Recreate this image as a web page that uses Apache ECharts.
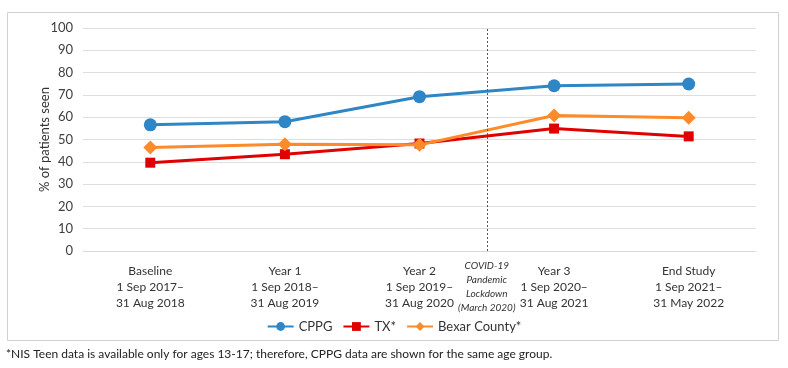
<!DOCTYPE html>
<html>
<head>
<meta charset="utf-8">
<script src="https://cdn.jsdelivr.net/npm/echarts@6/dist/echarts.min.js"></script>
<style>
  html, body { margin: 0; padding: 0; background: #fff; }
  #chart { width: 788px; height: 368px; }
</style>
</head>
<body>
<div id="chart"></div>
<script>
// categories (x axis)
const periods = [
  'Baseline\n1 Sep 2017–\n31 Aug 2018',
  'Year 1\n1 Sep 2018–\n31 Aug 2019',
  'Year 2\n1 Sep 2019–\n31 Aug 2020',
  'Year 3\n1 Sep 2020–\n31 Aug 2021',
  'End Study\n1 Sep 2021–\n31 May 2022'
]

// % of patients seen
const cppg = [56.6, 58.0, 69.2, 74.1, 74.9]
const tx = [39.6, 43.4, 48.2, 54.9, 51.4]
const bexar = [46.4, 47.9, 47.6, 60.8, 59.7]

// covid marker sits on the boundary between Year 2 and Year 3
const covidPos = 3
const covidLabel = ['COVID-19', 'Pandemic', 'Lockdown', '(March 2020)']

const footnote = '*NIS Teen data is available only for ages 13-17; therefore, CPPG data are shown for the same age group.'

const font = 'Lato, "Open Sans", sans-serif'

const chart = echarts.init(document.getElementById('chart'))

const option = {
  animation: false,
  textStyle: { fontFamily: font },
  graphic: [
    {
      type: 'rect',
      shape: { x: 7.5, y: 12.5, width: 771, height: 328 },
      style: { fill: 'none', stroke: '#d0d0d0', lineWidth: 1 },
      silent: true
    },
    {
      type: 'text',
      left: 6,
      top: 348,
      style: { text: footnote, fontSize: 12, fill: '#222', fontFamily: font }
    }
  ],
  grid: { left: 83, right: 32, top: 28, bottom: 117 },
  legend: {
    top: 315,
    left: 'center',
    itemWidth: 26,
    itemHeight: 11,
    itemGap: 10,
    textStyle: { fontSize: 13, color: '#333', fontFamily: font },
    data: ['CPPG', 'TX*', 'Bexar County*']
  },
  xAxis: [
    {
      type: 'category',
      data: periods,
      axisLine: { show: true, lineStyle: { color: '#d9d9d9' } },
      axisTick: { show: false },
      axisLabel: { fontSize: 12, lineHeight: 16, color: '#333', margin: 12, interval: 0 }
    },
    {
      type: 'value',
      min: 0,
      max: 5,
      show: false
    }
  ],
  yAxis: {
    type: 'value',
    min: 0,
    max: 100,
    interval: 10,
    name: '% of patients seen',
    nameLocation: 'middle',
    nameGap: 32,
    nameMoveOverlap: false,
    nameTextStyle: { fontSize: 13, color: '#333' },
    axisLine: { show: false },
    axisTick: { show: false },
    axisLabel: { fontSize: 13, color: '#404040', margin: 10 },
    splitLine: { lineStyle: { color: '#dedede', width: 1 } }
  },
  series: [
    {
      name: 'CPPG',
      type: 'line',
      data: cppg,
      symbol: 'circle',
      symbolSize: 13,
      color: '#2e86c6',
      lineStyle: { width: 3 }
    },
    {
      name: 'TX*',
      type: 'line',
      data: tx,
      symbol: 'rect',
      symbolSize: 10,
      color: '#e00000',
      lineStyle: { width: 3 }
    },
    {
      name: 'Bexar County*',
      type: 'line',
      data: bexar,
      symbol: 'diamond',
      symbolSize: 14,
      color: '#ff8a2a',
      lineStyle: { width: 3 }
    },
    {
      name: 'covid',
      type: 'line',
      xAxisIndex: 1,
      data: [],
      markLine: {
        silent: true,
        symbol: 'none',
        lineStyle: { color: '#555', type: [2, 2], width: 1 },
        label: {
          show: true,
          position: 'start',
          distance: 8,
          formatter: covidLabel.join('\n'),
          fontSize: 10,
          lineHeight: 14,
          fontStyle: 'italic',
          color: '#333'
        },
        data: [{ xAxis: covidPos }]
      }
    }
  ]
}

chart.setOption(option)
</script>
</body>
</html>
